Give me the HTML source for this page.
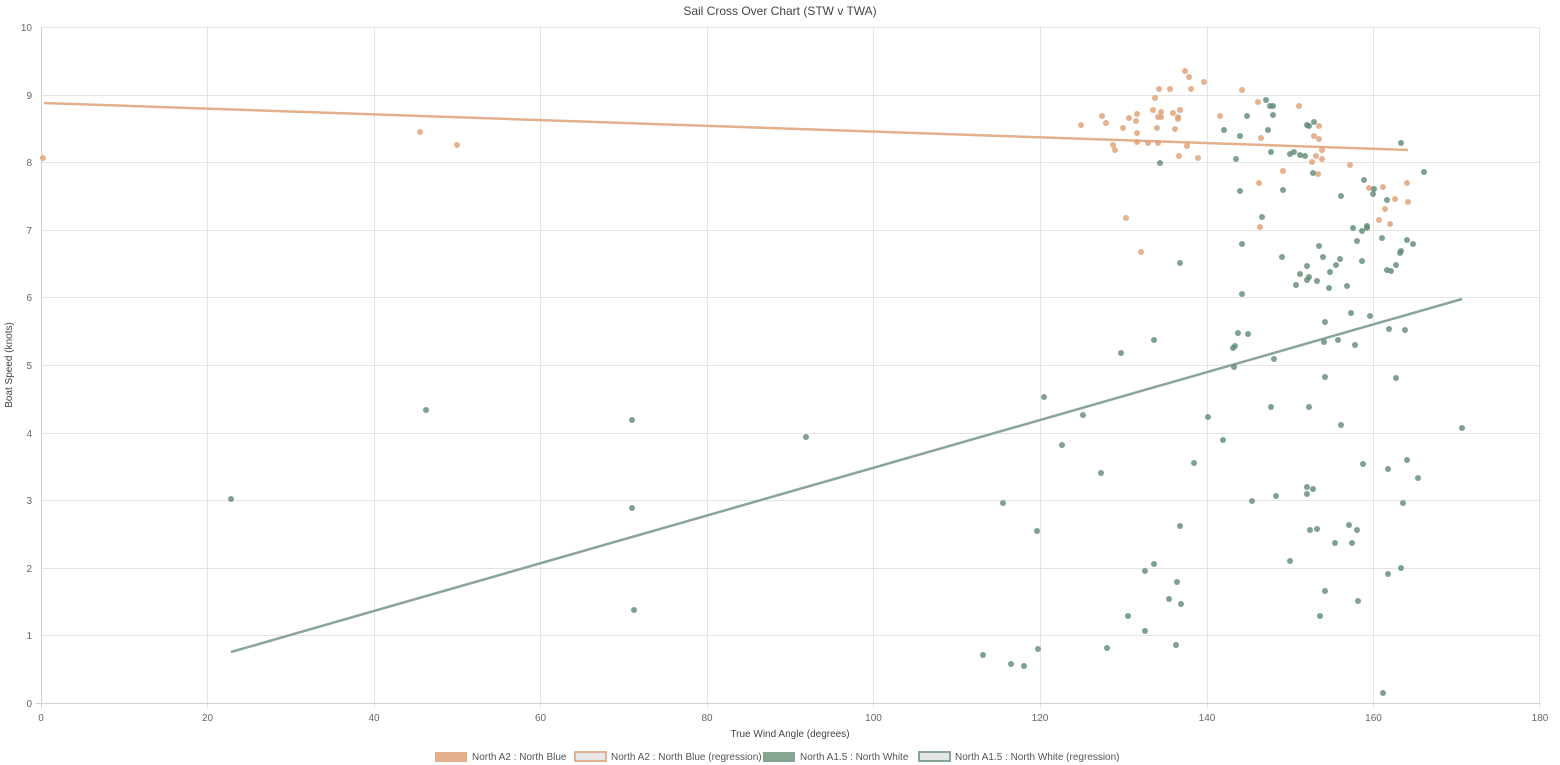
<!DOCTYPE html>
<html><head><meta charset="utf-8"><style>
html,body{margin:0;padding:0;background:#fff;}
svg{display:block;font-family:"Liberation Sans",sans-serif;}
</style></head><body>
<svg id="s" width="1560" height="765" xmlns="http://www.w3.org/2000/svg">
<text x="780" y="15" text-anchor="middle" font-size="12" fill="#444">Sail Cross Over Chart (STW v TWA)</text>
<g stroke="#e4e4e4" stroke-width="1">
<line x1="41" y1="27.5" x2="1540" y2="27.5"/><line x1="41" y1="95.5" x2="1540" y2="95.5"/><line x1="41" y1="162.5" x2="1540" y2="162.5"/><line x1="41" y1="230.5" x2="1540" y2="230.5"/><line x1="41" y1="297.5" x2="1540" y2="297.5"/><line x1="41" y1="365.5" x2="1540" y2="365.5"/><line x1="41" y1="433.5" x2="1540" y2="433.5"/><line x1="41" y1="500.5" x2="1540" y2="500.5"/><line x1="41" y1="568.5" x2="1540" y2="568.5"/><line x1="41" y1="635.5" x2="1540" y2="635.5"/>
<line x1="207.5" y1="27" x2="207.5" y2="708"/><line x1="374.5" y1="27" x2="374.5" y2="708"/><line x1="540.5" y1="27" x2="540.5" y2="708"/><line x1="707.5" y1="27" x2="707.5" y2="708"/><line x1="873.5" y1="27" x2="873.5" y2="708"/><line x1="1040.5" y1="27" x2="1040.5" y2="708"/><line x1="1207.5" y1="27" x2="1207.5" y2="708"/><line x1="1373.5" y1="27" x2="1373.5" y2="708"/><line x1="1539.5" y1="27" x2="1539.5" y2="708"/>
</g>
<g stroke="#cfcfcf"><line x1="41.5" y1="27" x2="41.5" y2="708"/><line x1="36" y1="703.5" x2="1540" y2="703.5"/></g>
<g font-size="10" fill="#666" text-anchor="end">
<text x="32" y="31">10</text><text x="32" y="99">9</text><text x="32" y="166">8</text><text x="32" y="234">7</text><text x="32" y="301">6</text><text x="32" y="369">5</text><text x="32" y="437">4</text><text x="32" y="504">3</text><text x="32" y="572">2</text><text x="32" y="639">1</text><text x="32" y="707">0</text>
</g>
<g font-size="10" fill="#666" text-anchor="middle">
<text x="41" y="721">0</text><text x="207.5" y="721">20</text><text x="374" y="721">40</text><text x="540.5" y="721">60</text><text x="707" y="721">80</text><text x="873.5" y="721">100</text><text x="1040" y="721">120</text><text x="1207" y="721">140</text><text x="1373.5" y="721">160</text><text x="1540" y="721">180</text>
</g>
<text x="790" y="737" text-anchor="middle" font-size="10" fill="#444">True Wind Angle (degrees)</text>
<text transform="translate(12,365) rotate(-90)" text-anchor="middle" font-size="10" fill="#444">Boat Speed (knots)</text>
<line x1="44" y1="103" x2="1408" y2="150" stroke="#e2b08c" stroke-width="2.5"/>
<line x1="231" y1="652" x2="1462" y2="299" stroke="#8aa598" stroke-width="2.5"/>
<g id="og" fill="#dd9f72" fill-opacity="0.8"></g>
<g id="gg" fill="#5f8a74" fill-opacity="0.8"></g>
<g font-size="10" fill="#555">
<rect x="435" y="752" width="32" height="10" fill="#e2b08c"/><text x="472" y="760">North A2 : North Blue</text>
<rect x="575" y="752" width="31" height="9" fill="#e6e6e6" stroke="#e2b08c" stroke-width="2"/><text x="611" y="760">North A2 : North Blue (regression)</text>
<rect x="763" y="752" width="32" height="10" fill="#86a592"/><text x="800" y="760">North A1.5 : North White</text>
<rect x="919" y="752" width="31" height="9" fill="#e6e6e6" stroke="#86a592" stroke-width="2"/><text x="955" y="760">North A1.5 : North White (regression)</text>
</g>
</svg>
<script>
var O=[[43,158],[420,132],[457,145],[1081,125],[1102,116],[1106,123],[1123,128],[1129,118],[1136,121],[1137,114],[1137,133],[1137,142],[1113,145],[1115,150],[1148,143],[1158,143],[1157,128],[1153,110],[1155,98],[1159,89],[1161,112],[1158,117],[1161,117],[1170,89],[1173,113],[1175,129],[1178,117],[1178,119],[1180,110],[1179,156],[1187,146],[1185,71],[1189,77],[1191,89],[1198,158],[1204,82],[1220,116],[1242,90],[1258,102],[1261,138],[1259,183],[1260,227],[1126,218],[1141,252],[1283,171],[1299,106],[1314,136],[1319,139],[1319,126],[1322,150],[1316,156],[1312,162],[1322,159],[1318,174],[1350,165],[1369,188],[1383,187],[1385,209],[1379,220],[1390,224],[1395,199],[1407,183],[1408,202]];
var G=[[1266,100],[1270,106],[1273,106],[1273,115],[1247,116],[1224,130],[1240,136],[1268,130],[1271,152],[1236,159],[1160,163],[1290,154],[1294,152],[1300,155],[1305,156],[1307,125],[1309,126],[1314,122],[1313,173],[1240,191],[1283,190],[1262,217],[1242,244],[1180,263],[1282,257],[1242,294],[1296,285],[1300,274],[1307,266],[1309,277],[1307,280],[1317,281],[1319,246],[1323,257],[1329,288],[1330,272],[1336,265],[1340,259],[1347,286],[1341,196],[1364,180],[1374,189],[1373,194],[1387,200],[1353,228],[1357,241],[1362,231],[1367,228],[1367,226],[1362,261],[1382,238],[1387,270],[1391,271],[1396,265],[1400,253],[1401,251],[1407,240],[1413,244],[1401,143],[1424,172],
[231,499],[426,410],[632,420],[632,508],[634,610],[806,437],
[1351,313],[1370,316],[1325,322],[1389,329],[1405,330],[1154,340],[1238,333],[1248,334],[1121,353],[1324,342],[1338,340],[1355,345],[1233,348],[1235,346],[1234,367],[1274,359],[1325,377],[1396,378],[1044,397],[1083,415],[1271,407],[1309,407],[1208,417],[1341,425],[1462,428],[1062,445],[1223,440],[1194,463],[1363,464],[1388,469],[1407,460],[1418,478],[1101,473],[1003,503],[1252,501],[1276,496],[1307,487],[1313,489],[1307,494],[1403,503],[1037,531],[1180,526],[1310,530],[1317,529],[1349,525],[1357,530],[1335,543],[1352,543],[1290,561],[1154,564],[1145,571],[1177,582],[1401,568],[1388,574],[1325,591],[1169,599],[1181,604],[1358,601],[1128,616],[1320,616],[1145,631],[983,655],[1011,664],[1024,666],[1038,649],[1107,648],[1176,645],[1383,693]];
function add(id,a){var g=document.getElementById(id),h='';a.forEach(function(p){h+='<circle cx="'+p[0]+'" cy="'+p[1]+'" r="3"/>';});g.innerHTML=h;}
add('og',O);add('gg',G);
</script>
</body></html>
